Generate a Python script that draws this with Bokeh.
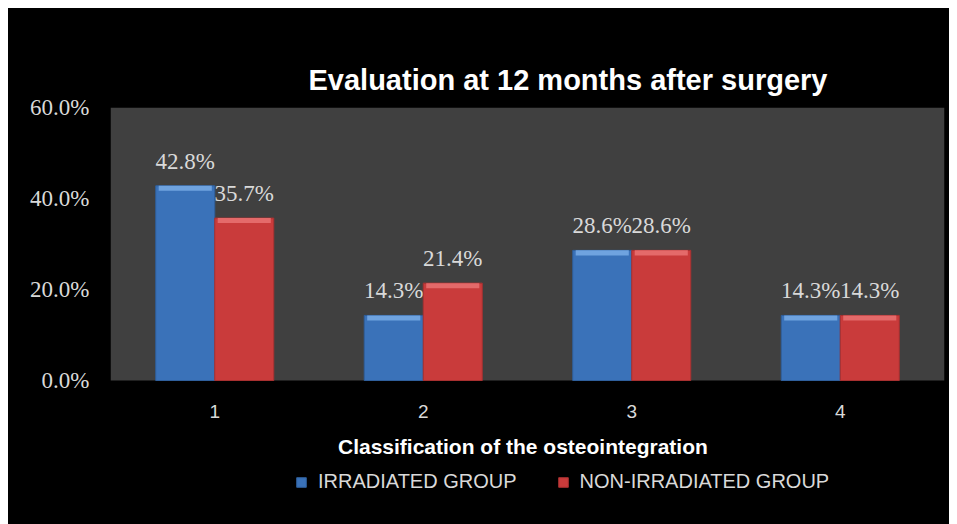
from bokeh.plotting import figure
from bokeh.core.properties import value
from bokeh.models import (ColumnDataSource, FixedTicker, PrintfTickFormatter,
                          Label, LabelSet, Legend, LegendItem)
from bokeh.embed import file_html
from bokeh.resources import INLINE

# ---- data ----
categories = [1, 2, 3, 4]
cat_labels = ["1", "2", "3", "4"]
irradiated = [42.8, 14.3, 28.6, 14.3]
non_irradiated = [35.7, 21.4, 28.6, 14.3]
y_ticks = [0, 20, 40, 60]
series_names = ["IRRADIATED GROUP", "NON-IRRADIATED GROUP"]
title_text = "Evaluation at 12 months after surgery"
x_title = "Classification of the osteointegration"

# ---- style / layout ----
BAR_W = 0.283
OFF = BAR_W / 2
BLUE = "#3a72b9"
BLUE_HI = "#6fa3df"
RED = "#c93b3b"
RED_HI = "#e46a6a"
TXT = "#d9d9d9"
SERIF = "Liberation Serif"
SANS = "Liberation Sans"

W, H = 941, 516
LEFT, RIGHT, TOP = 102, 5, 99
AREA_PX = 273                      # pixel height of the grey plot area
FRAME_PX = H - TOP                 # frame runs to the bottom of the figure
x_lo, x_hi = categories[0] - 0.5, categories[-1] + 0.5
y_lo, y_hi = y_ticks[0], y_ticks[-1]
y_start = y_lo - (FRAME_PX - AREA_PX) * (y_hi - y_lo) / AREA_PX

p = figure(width=W, height=H, output_backend="svg", toolbar_location=None,
           x_range=(x_lo, x_hi), y_range=(y_start, y_hi),
           min_border_left=LEFT, min_border_right=RIGHT, min_border_top=TOP,
           min_border_bottom=0)
p.margin = (8, 0, 0, 8)
p.styles = {"background-color": "black"}
p.border_fill_color = None
p.background_fill_color = None
p.outline_line_color = None
p.xgrid.visible = False
p.ygrid.visible = False
p.xaxis.visible = False

# grey plot area
p.quad(left=[x_lo], right=[x_hi], bottom=[y_lo], top=[y_hi],
       fill_color="#404040", line_color=None)

def make_src(vals, off):
    return ColumnDataSource(dict(
        x=[c + off for c in categories],
        top=vals,
        hi_bottom=[max(v - 1.1, 0) for v in vals],
        lab=[f"{v:.1f}%" for v in vals],
    ))

src_b = make_src(irradiated, -OFF)
src_r = make_src(non_irradiated, OFF)

rb = p.vbar(x="x", top="top", bottom=0, width=BAR_W, source=src_b,
            fill_color=BLUE, line_color="#2f5f9c", line_width=1)
p.vbar(x="x", top="top", bottom="hi_bottom", width=BAR_W * 0.9, source=src_b,
       fill_color=BLUE_HI, line_color=None)
rr = p.vbar(x="x", top="top", bottom=0, width=BAR_W, source=src_r,
            fill_color=RED, line_color="#a83030", line_width=1)
p.vbar(x="x", top="top", bottom="hi_bottom", width=BAR_W * 0.9, source=src_r,
       fill_color=RED_HI, line_color=None)

for src in (src_b, src_r):
    p.add_layout(LabelSet(x="x", y="top", text="lab", source=src, y_offset=17,
                          text_align="center", text_baseline="alphabetic",
                          text_color=TXT, text_font=value(SERIF),
                          text_font_size="23px"))

# category labels (x axis)
cat_src = ColumnDataSource(dict(x=categories, y=[y_lo] * len(categories),
                                t=cat_labels))
p.add_layout(LabelSet(x="x", y="y", text="t", source=cat_src, y_offset=-37,
                      text_align="center", text_baseline="alphabetic",
                      text_color=TXT, text_font=value(SANS),
                      text_font_size="19px"))

# x axis title
p.add_layout(Label(x=(x_lo + x_hi) / 2 - 0.022, y=y_lo, y_offset=-66,
                   text=x_title, text_align="center",
                   text_baseline="alphabetic", text_color="white",
                   text_font=SANS, text_font_style="bold",
                   text_font_size="21px"))

# title
p.title.text = title_text
p.title.align = "left"
p.title.offset = 198
p.title.standoff = 23
p.title.text_color = "white"
p.title.text_font = SANS
p.title.text_font_style = "bold"
p.title.text_font_size = "29px"

# y axis
p.yaxis.ticker = FixedTicker(ticks=y_ticks)
p.yaxis.formatter = PrintfTickFormatter(format="%.1f%%")
p.yaxis.axis_line_color = None
p.yaxis.major_tick_line_color = None
p.yaxis.minor_tick_line_color = None
p.yaxis.major_tick_out = 0
p.yaxis.major_tick_in = 0
p.yaxis.minor_tick_out = 0
p.yaxis.major_label_text_color = TXT
p.yaxis.major_label_text_font = SERIF
p.yaxis.major_label_text_font_size = "23px"
p.yaxis.major_label_standoff = 21

legend = Legend(items=[LegendItem(label=series_names[0], renderers=[rb]),
                       LegendItem(label=series_names[1], renderers=[rr])],
                orientation="horizontal", location=(185, 31),
                glyph_width=12, glyph_height=12, label_standoff=11,
                spacing=40, padding=0, margin=0,
                border_line_color=None, background_fill_alpha=0,
                label_text_color=TXT, label_text_font=SANS,
                label_text_font_size="20px")
p.add_layout(legend, "center")

open("out.html", "w").write(file_html(p, INLINE))
